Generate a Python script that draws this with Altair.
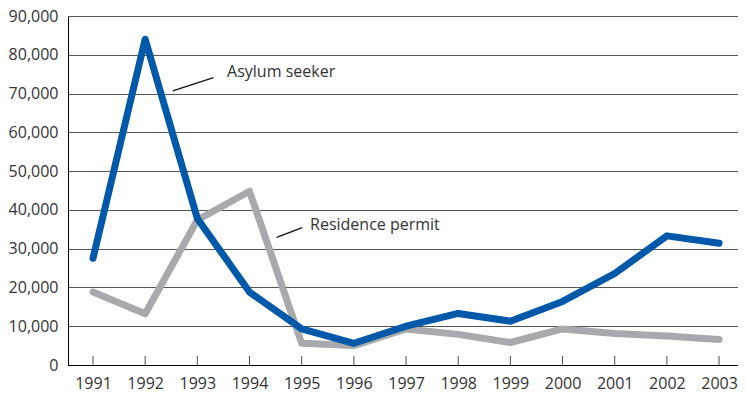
import altair as alt
import pandas as pd

# ---- data ----
years = list(range(1991, 2004))
asylum = [27500, 84000, 37800, 18800, 9300, 5600, 10000, 13300, 11300, 16400, 23600, 33300, 31400]
residence = [18800, 13200, 37400, 44800, 5600, 5000, 9300, 7900, 5800, 9300, 8100, 7500, 6600]

series_names = ["Residence permit", "Asylum seeker"]
series_colors = ["#a7a9ac", "#0058a8"]

label_text = ["Asylum seeker", "Residence permit"]
label_x = [1993.57, 1995.16]
label_y = [75500, 36200]
leader_x1 = [1992.53, 1994.52]
leader_y1 = [70700, 32900]
leader_x2 = [1993.31, 1995.01]
leader_y2 = [74100, 35400]

y_ticks = list(range(0, 90001, 10000))
zero_line = [0]

# ---- tables ----
df = pd.DataFrame({
    "year": years * 2,
    "value": residence + asylum,
    "series": [series_names[0]] * len(years) + [series_names[1]] * len(years),
})
ticks_df = pd.DataFrame({"year": years, "base": zero_line * len(years)})
ann_df = pd.DataFrame({
    "text": label_text, "lx": label_x, "ly": label_y,
    "x1": leader_x1, "y1": leader_y1, "x2": leader_x2, "y2": leader_y2,
})

FONT = "Open Sans"
xs = alt.Scale(domain=[1990.521, 2003.363], nice=False, zero=False)
ys = alt.Scale(domain=[0, 90000], nice=False)
xaxis = alt.Axis(values=years, labelExpr="toString(datum.value)", title=None,
                 grid=False, ticks=False,
                 domainColor="#000", domainWidth=1, labelPadding=10,
                 labelFont=FONT, labelFontSize=16, labelColor="#333")
yaxis = alt.Axis(values=y_ticks,
                 labelExpr="datum.value == 0 ? '0' : floor(datum.value / 1000) + ',000'",
                 title=None, ticks=False,
                 domainColor="#000", domainWidth=1, grid=True, gridColor="#555",
                 gridWidth=1, labelPadding=10, labelFont=FONT, labelFontSize=16,
                 labelColor="#333")

base = alt.Chart(df)

lines = []
for name, col in zip(series_names, series_colors):
    lines.append(
        base.transform_filter(alt.datum.series == name)
        .mark_line(color=col, strokeWidth=7, strokeCap="round", strokeJoin="round")
        .encode(x=alt.X("year:Q", scale=xs, axis=xaxis),
                y=alt.Y("value:Q", scale=ys, axis=yaxis))
    )

ticks = alt.Chart(ticks_df).mark_tick(
    orient="vertical", size=9, thickness=1, yOffset=-4.5, color="#000"
).encode(x=alt.X("year:Q", scale=xs, axis=xaxis),
         y=alt.Y("base:Q", scale=ys, axis=yaxis))

leaders = alt.Chart(ann_df).mark_rule(color="#111", strokeWidth=1.3).encode(
    x=alt.X("x1:Q", scale=xs, axis=xaxis), x2="x2:Q",
    y=alt.Y("y1:Q", scale=ys, axis=yaxis), y2="y2:Q",
)

labels = alt.Chart(ann_df).mark_text(
    align="left", baseline="middle", font=FONT, fontSize=16, color="#333"
).encode(
    x=alt.X("lx:Q", scale=xs, axis=xaxis),
    y=alt.Y("ly:Q", scale=ys, axis=yaxis),
    text="text:N",
)

chart = alt.layer(*lines, ticks, leaders, labels).properties(
    width=670, height=349, padding=0, background="white"
).configure_view(strokeWidth=0)

chart.save("out.html", embed_options={"renderer": "svg", "actions": False})
